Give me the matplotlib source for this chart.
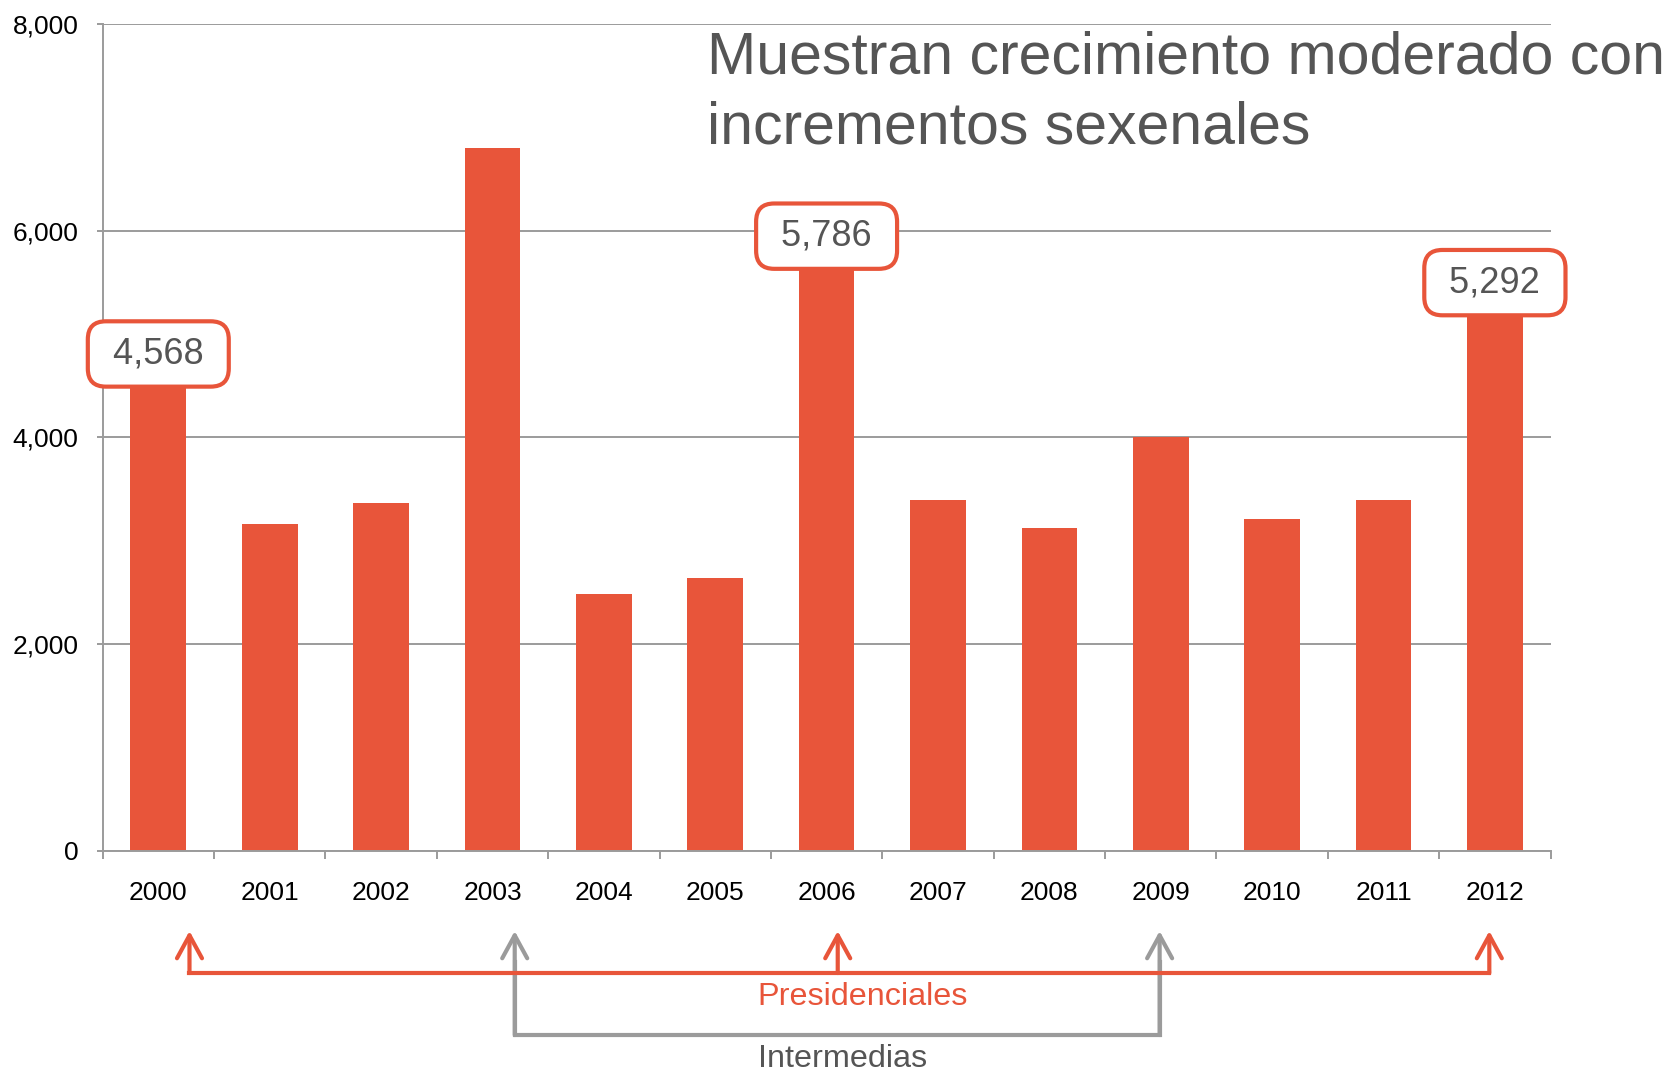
import numpy as np
import matplotlib
matplotlib.use('Agg')
import matplotlib.pyplot as plt
from matplotlib.ticker import FuncFormatter

plt.rcParams['font.family'] = ['Liberation Sans', 'DejaVu Sans']

years = ['2000', '2001', '2002', '2003', '2004', '2005', '2006',
         '2007', '2008', '2009', '2010', '2011', '2012']
values = [4568, 3157, 3362, 6797, 2488, 2643, 5786, 3393, 3126, 4000, 3208, 3393, 5292]
labeled = ['2000', '2006', '2012']
presidenciales = ['2000', '2006', '2012']
intermedias = ['2003', '2009']
title_lines = ['Muestran crecimiento moderado con', 'incrementos sexenales']

ORANGE = '#E8553A'
GRAY = '#9B9B9B'
TEXT = '#555555'

fig = plt.figure(figsize=(16.63, 10.69), dpi=100)
ax = fig.add_axes([0.0617, 0.2042, 0.8707, 0.7733])

x = np.arange(len(years))
ax.bar(x, values, width=0.5, color=ORANGE, zorder=2)

ax.set_xlim(-0.5, len(years) - 0.5)
ax.set_ylim(0, 8000)
ax.set_yticks([0, 2000, 4000, 6000, 8000])
ax.yaxis.set_major_formatter(FuncFormatter(lambda v, p: f'{int(v):,}'))
ax.yaxis.grid(True, color=GRAY, lw=1.4, zorder=0)
ax.set_axisbelow(True)

ax.set_xticks(x)
ax.set_xticklabels(years)
ax.set_xticks(np.arange(-0.5, len(years), 1), minor=True)
ax.tick_params(axis='x', which='major', length=0, pad=22, labelsize=19)
ax.tick_params(axis='x', which='minor', length=6, width=1.4, color=GRAY)
ax.tick_params(axis='y', length=4.3, width=1.4, color=GRAY, pad=13, labelsize=19)

for s in ['top', 'right']:
    ax.spines[s].set_visible(False)
for s in ['left', 'bottom']:
    ax.spines[s].set_color(GRAY)
    ax.spines[s].set_linewidth(1.4)

# value boxes on presidential years
offsets = {'2000': 17.8, '2006': 12, '2012': 15.3}
for yr in labeled:
    i = years.index(yr)
    ax.annotate(f' {values[i]:,} ', xy=(i, values[i]), xytext=(0, offsets[yr]),
                textcoords='offset points', ha='center', va='center',
                fontsize=26, color=TEXT, zorder=5,
                bbox=dict(boxstyle='round,pad=0.42,rounding_size=0.5',
                          fc='white', ec=ORANGE, lw=3))

# title
fig.text(0.4251, 0.9308, title_lines[0], fontsize=42.5, color=TEXT, va='baseline')
fig.text(0.4251, 0.8662, title_lines[1], fontsize=42.5, color=TEXT, va='baseline')

# bracket arrows under the axis
tip_y = -777
pres_y = -1184
inter_y = -1784
pres_shift = {'2000': 0.28, '2006': 0.10, '2012': -0.05}
inter_shift = {'2003': 0.20, '2009': -0.01}
astyle = '->,head_length=0.55,head_width=0.3'

pres_x = [years.index(y) + pres_shift[y] for y in presidenciales]
inter_x = [years.index(y) + inter_shift[y] for y in intermedias]

ax.plot([inter_x[0], inter_x[0], inter_x[-1], inter_x[-1]],
        [tip_y - 300, inter_y, inter_y, tip_y - 300],
        color=GRAY, lw=3, clip_on=False, zorder=3, solid_joinstyle='miter')
for px in inter_x:
    ax.annotate('', xy=(px, tip_y), xytext=(px, inter_y), annotation_clip=False,
                arrowprops=dict(arrowstyle=astyle, color=GRAY, lw=3,
                                mutation_scale=30, shrinkA=0, shrinkB=0), zorder=3)

ax.plot([pres_x[0], pres_x[-1]], [pres_y, pres_y], color=ORANGE, lw=3,
        clip_on=False, zorder=4)
for px in pres_x:
    ax.annotate('', xy=(px, tip_y), xytext=(px, pres_y), annotation_clip=False,
                arrowprops=dict(arrowstyle=astyle, color=ORANGE, lw=3,
                                mutation_scale=30, shrinkA=0, shrinkB=0), zorder=4)

ax.text(6.32, -1493, 'Presidenciales', ha='center', va='baseline',
        fontsize=23.3, color=ORANGE, clip_on=False)
ax.text(6.14, -2093, 'Intermedias', ha='center', va='baseline',
        fontsize=23.3, color=TEXT, clip_on=False)

fig.savefig('out.png', dpi=100)
